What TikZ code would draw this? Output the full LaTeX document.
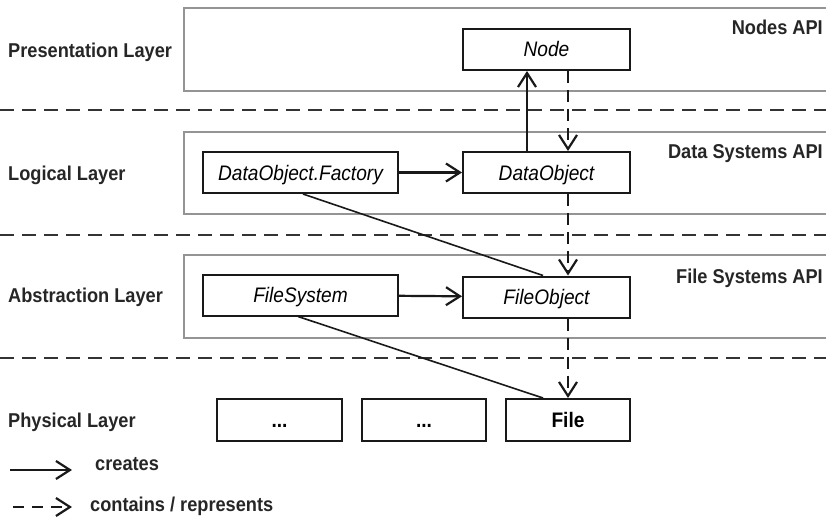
\documentclass[tikz,border=0pt]{standalone}
\usepackage{fontspec}
\setmainfont{Liberation Sans}[FakeStretch=0.91]
\usetikzlibrary{arrows.meta}
\begin{document}
\begin{tikzpicture}[x=1pt,y=-1pt,
  every node/.style={inner sep=0pt},
  layerbox/.style={draw=black!42,line width=1.5pt},
  sep/.style={draw=black!80,line width=1.8pt,dash pattern=on 14pt off 8pt},
  obj/.style={draw=black!90,line width=2pt,minimum height=41pt,text height=15pt,text depth=0pt,font=\fontsize{21}{24}\selectfont\itshape},
  phys/.style={draw=black!90,line width=2pt,minimum height=42pt,text height=15pt,text depth=0pt,font=\fontsize{21}{24}\selectfont\bfseries},
  lbl/.style={anchor=base west,font=\fontsize{20}{23}\selectfont\bfseries,text=black!85},
  api/.style={anchor=base east,font=\fontsize{20}{23}\selectfont\bfseries,text=black!85},
  tip/.style={-{Straight Barb[length=14pt,width=18pt,line width=2.2pt]}},
  creates/.style={draw=black!90,line width=2.2pt,tip},
  contains/.style={draw=black!90,line width=2.2pt,tip,dash pattern=on 12pt off 7pt},
  assoc/.style={draw=black!90,line width=1.6pt}]
\useasboundingbox (0,0) rectangle (826,516);
% layer boxes
\draw[layerbox] (184,8) rectangle (830,91);
\draw[layerbox] (184,132) rectangle (830,214);
\draw[layerbox] (184,255) rectangle (830,338);
% separators
\coordinate (s1a) at (0,110); \coordinate (s1b) at (826,110);
\coordinate (s2a) at (0,235); \coordinate (s2b) at (826,235);
\coordinate (s3a) at (0,358); \coordinate (s3b) at (826,358);
\draw[sep] (s1a) -- (s1b);
\draw[sep] (s2a) -- (s2b);
\draw[sep] (s3a) -- (s3b);
% layer labels
\node[lbl] (lp) at (8,58) {Presentation Layer};
\node[lbl] (ll) at (8,180) {Logical Layer};
\node[lbl] (la) at (8,302) {Abstraction Layer};
\node[lbl] (lph) at (8,427) {Physical Layer};
% API labels
\node[api] (a1) at (823,35) {Nodes API};
\node[api] (a2) at (823,158) {Data Systems API};
\node[api] (a3) at (823,283) {File Systems API};
% objects
\node[obj,minimum width=167pt] (node) at (546.5,49.5) {Node};
\node[obj,minimum width=167pt] (dobj) at (546.5,172.5) {DataObject};
\node[obj,minimum width=195pt] (fact) at (300.5,172.5) {DataObject.Factory};
\node[obj,minimum width=195pt] (fs) at (300.5,295) {FileSystem};
\node[obj,minimum width=167pt] (fo) at (546.5,297) {FileObject};
\node[phys,minimum width=125pt] (p1) at (279.5,420) {...};
\node[phys,minimum width=124pt] (p2) at (424,420) {...};
\node[phys,minimum width=124pt] (file) at (568,420) {File};
% connectors
\draw[creates] (fact) -- (dobj);
\draw[creates] (fs) -- (fo);
\draw[creates] (dobj.north -| 527,0) -- (node.south -| 527,0);
\draw[contains] (node.south -| 568,0) -- (dobj.north -| 568,0);
\draw[contains] (dobj.south -| 568,0) -- (fo.north -| 568,0);
\draw[contains] (fo.south -| 568,0) -- (file.north -| 568,0);
\draw[assoc] (fact.south -| 303,0) -- (fo.north -| 543,0);
\draw[assoc] (fs.south -| 298,0) -- (file.north -| 543,0);
% legend
\coordinate (l1a) at (10,470); \coordinate (l1b) at (72,470);
\coordinate (l2a) at (13,507); \coordinate (l2b) at (72,507);
\draw[creates] (l1a) -- (l1b);
\draw[contains,dash pattern=on 11pt off 8pt] (l2a) -- (l2b);
\node[lbl] (t1) at (95,470) {creates};
\node[lbl] (t2) at (90,511) {contains / represents};
\end{tikzpicture}
\end{document}
